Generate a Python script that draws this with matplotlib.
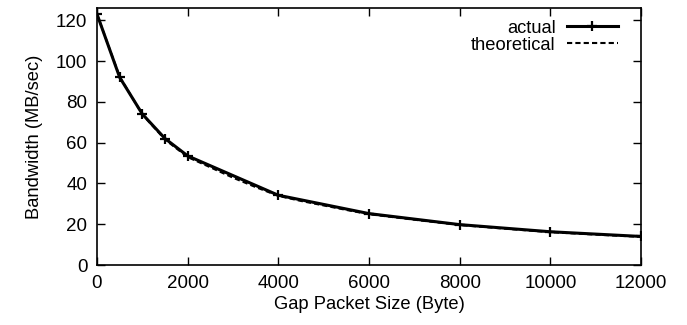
import matplotlib
matplotlib.use("Agg")
import matplotlib.pyplot as plt

plt.rcParams['font.family'] = ['Liberation Sans', 'DejaVu Sans']

gap_actual = [0, 500, 1000, 1500, 2000, 4000, 6000, 8000, 10000, 12000]
bw_actual = [123, 92, 74, 62, 53.5, 34.2, 25.2, 19.8, 16.3, 14.0]

gap_theory = [0, 500, 1000, 1500, 2000, 2500, 3000, 3500, 4000, 4500, 5000, 5500,
              6000, 7000, 8000, 9000, 10000, 11000, 12000]
bw_theory = [123, 92.3, 73.8, 61.5, 52.9, 47.9, 42.8, 38.2, 33.9, 31.4, 29.2, 27.0,
             24.9, 22.2, 19.6, 17.8, 16.1, 14.9, 13.8]

xticks = [0, 2000, 4000, 6000, 8000, 10000, 12000]
yticks = [0, 20, 40, 60, 80, 100, 120]

fig = plt.figure(figsize=(6.87, 3.25), dpi=100)
ax = fig.add_axes([97/687, 1 - 265/325, (641-97)/687, (265-8)/325])

ax.plot(gap_actual, bw_actual, color='black', lw=2.2, marker='+', ms=7, mew=1.6,
        label='actual', zorder=3)
ax.plot(gap_theory, bw_theory, color='black', lw=1.5, ls=(0, (2.5, 1.5)),
        label='theoretical', zorder=2)

ax.set_xlim(0, 12000)
ax.set_ylim(0, 126)
ax.set_xticks(xticks)
ax.set_yticks(yticks)
ax.tick_params(direction='in', length=6, width=1, top=True, right=True,
               labelsize=13.5, pad=7)
for s in ax.spines.values():
    s.set_linewidth(1.2)
ax.set_xlabel('Gap Packet Size (Byte)', fontsize=13.2, labelpad=3)
ax.set_ylabel('Bandwidth (MB/sec)', fontsize=13.2, labelpad=9)

ax.legend(loc='upper right', frameon=False, markerfirst=False, fontsize=13.2,
          handlelength=2.8, handletextpad=0.6, labelspacing=0.0,
          borderaxespad=0, borderpad=0, bbox_to_anchor=(0.958, 0.955))

fig.savefig('out.png', dpi=100)
